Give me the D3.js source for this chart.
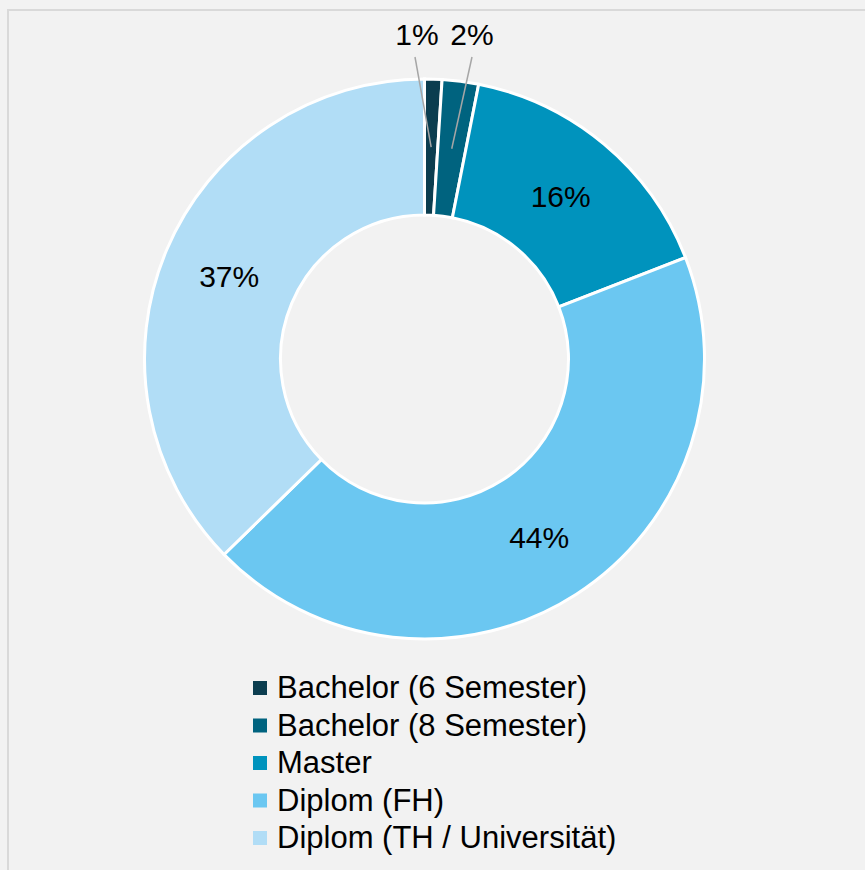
<!DOCTYPE html>
<html>
<head>
<meta charset="utf-8">
<script src="https://cdn.jsdelivr.net/npm/d3@7"></script>
<style>
  body { margin: 0; background: #f2f2f2; }
  svg { display: block; font-family: "Liberation Sans", Arial, sans-serif; }
</style>
</head>
<body>
<div id="chart"></div>
<script>
const categories = ["Bachelor (6 Semester)", "Bachelor (8 Semester)", "Master", "Diplom (FH)", "Diplom (TH / Universität)"];
const values = [1.0, 2.1, 16.0, 43.6, 37.3];
const colors = ["#0b3d4f", "#00637f", "#0093bd", "#6bc7f1", "#b1ddf6"];

const width = 865;
const height = 870;
const cx = 424.5, cy = 359;
const outerR = 280, innerR = 144;

const svg = d3.select("#chart").append("svg")
    .attr("width", width)
    .attr("height", height);

svg.append("rect")
    .attr("width", width).attr("height", height)
    .attr("fill", "#f2f2f2");

// chart area border
svg.append("rect")
    .attr("x", 8).attr("y", 10)
    .attr("width", 900).attr("height", 900)
    .attr("fill", "none")
    .attr("stroke", "#d9d9d9")
    .attr("stroke-width", 2);

const pie = d3.pie().sort(null).value(d => d);
const arcs = pie(values);
const arc = d3.arc().innerRadius(innerR).outerRadius(outerR);
const labelArc = d3.arc().innerRadius((innerR + outerR) / 2).outerRadius((innerR + outerR) / 2);

const g = svg.append("g").attr("transform", "translate(" + cx + "," + cy + ")");

g.selectAll("path")
    .data(arcs)
    .enter()
    .append("path")
    .attr("d", arc)
    .attr("fill", (d, i) => colors[i])
    .attr("stroke", "#ffffff")
    .attr("stroke-width", 3);

// small slices get their labels above the ring with leader lines
const outside = {0: [417 - cx, 45 - cy], 1: [472 - cx, 45 - cy]};

arcs.forEach((d, i) => {
    const c = labelArc.centroid(d);
    const txt = Math.round(values[i]) + "%";
    if (outside[i]) {
        const p = outside[i];
        g.append("line")
            .attr("x1", p[0] + (i === 0 ? -2 : 0)).attr("y1", p[1] + 12)
            .attr("x2", c[0]).attr("y2", c[1])
            .attr("stroke", "#a6a6a6")
            .attr("stroke-width", 1.5);
        g.append("text")
            .attr("x", p[0]).attr("y", p[1])
            .attr("text-anchor", "middle")
            .attr("font-size", 30)
            .attr("fill", "#000")
            .text(txt);
    } else {
        g.append("text")
            .attr("x", c[0]).attr("y", c[1])
            .attr("dy", "0.35em")
            .attr("text-anchor", "middle")
            .attr("font-size", 30)
            .attr("fill", "#000")
            .text(txt);
    }
});

// legend
const legend = svg.append("g").attr("transform", "translate(253,698)");
const rows = legend.selectAll("g")
    .data(categories)
    .enter()
    .append("g")
    .attr("transform", (d, i) => "translate(0," + (i * 37.5) + ")");

rows.append("rect")
    .attr("x", 0).attr("y", -17)
    .attr("width", 14).attr("height", 14)
    .attr("fill", (d, i) => colors[i]);

rows.append("text")
    .attr("x", 24).attr("y", 0)
    .attr("font-size", 31)
    .attr("fill", "#000")
    .text(d => d);
</script>
</body>
</html>
